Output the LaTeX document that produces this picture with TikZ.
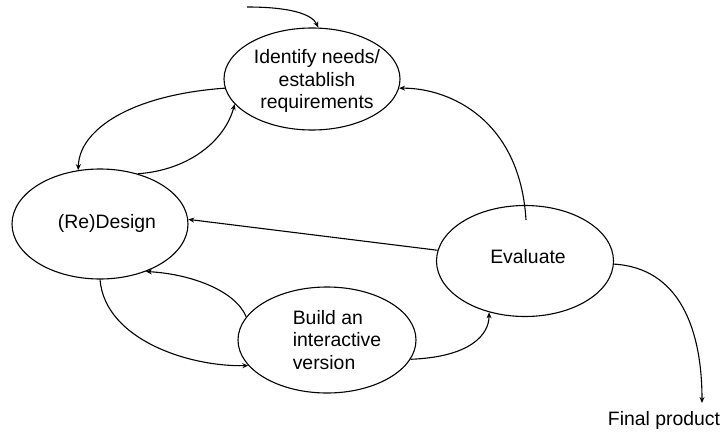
\documentclass[tikz,border=0pt]{standalone}
\usepackage{fontspec}
\setmainfont{Liberation Sans}
\usetikzlibrary{shapes.geometric,arrows.meta,calc}
\begin{document}
\begin{tikzpicture}[x=1pt,y=-1pt,
  stage/.style={draw, ellipse, line width=1.1pt, inner sep=0pt},
  lbl/.style={font=\fontsize{19.4}{22.5}\selectfont, inner sep=0pt, align=center},
  flow/.style={line width=1.1pt, -{Stealth[length=6pt,width=5pt]}}]
\useasboundingbox (0,0) rectangle (725,433);

% the four activities of the cycle
\node[stage, minimum width=176pt, minimum height=102pt] (ident)  at (312,79)  {};
\node[stage, minimum width=176pt, minimum height=110pt] (design) at (100,224) {};
\node[stage, minimum width=178pt, minimum height=106pt] (build)  at (327,340) {};
\node[stage, minimum width=177pt, minimum height=111pt] (eval)   at (525,261) {};

\node[lbl] (identtxt)  at (317,81)  {Identify needs/\\establish\\requirements};
\node[lbl] (designtxt) at (107,223) {(Re)Design};
\node[lbl, align=left] (buildtxt) at (337,340) {Build an\\interactive\\version};
\node[lbl] (evaltxt)   at (528,257) {Evaluate};
\node[lbl] (final)     at (664,420) {Final product};

\coordinate (entry) at (247,7);
\coordinate (finalin) at (702,403);

% entry into the cycle
\draw[flow] (entry) .. controls (290,7) and (312,14) .. (ident.83);
% between requirements and design
\draw[flow] (ident.186) .. controls (130,95) and (79,130) .. (design.112);
\draw[flow] (design.53) .. controls (190,170) and (225,140) .. (ident.198);
% evaluation feeds back
\draw[flow] ($(eval)+(1,-41)$) .. controls (520,120) and (450,88) .. (ident.-6);
\draw[flow] (eval.173) -- (design.3);
% between design and building
\draw[flow] (design.-90) .. controls (105,340) and (190,367) .. (build.198);
\draw[flow] (build.164) .. controls (235,290) and (190,274) .. (design.-46);
% build to evaluate, and out of the cycle
\draw[flow] (build.-13) .. controls (470,357) and (489,335) .. (eval.235);
\draw[flow] (eval.-2) .. controls (680,268) and (702,330) .. (finalin);
\end{tikzpicture}
\end{document}
